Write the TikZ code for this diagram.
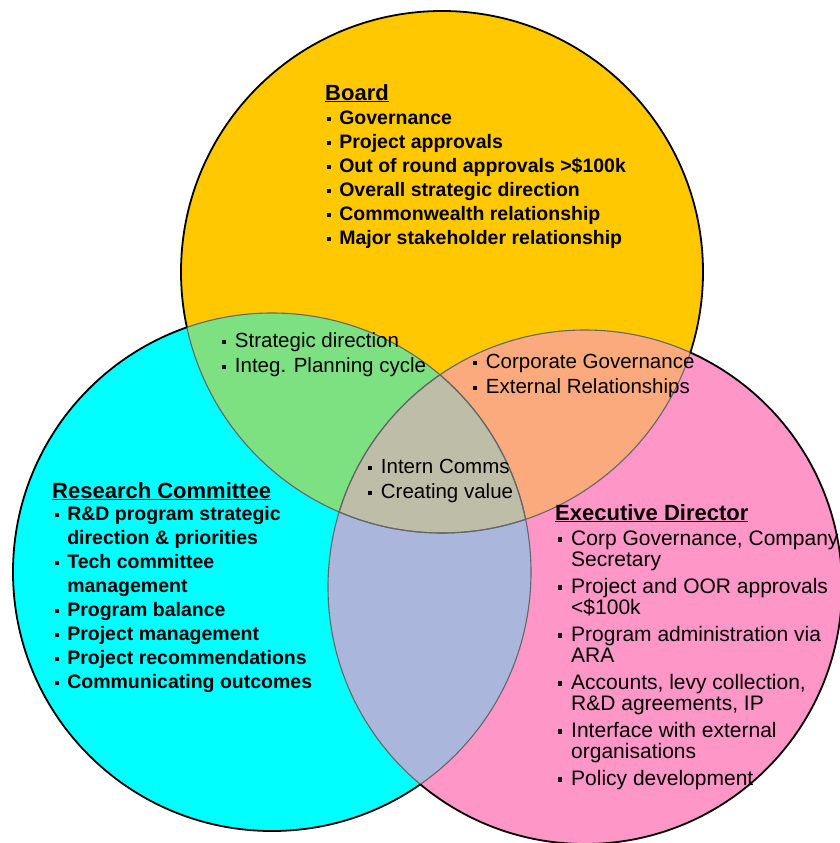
\documentclass[tikz,border=0pt]{standalone}
\usepackage{fontspec}
\setmainfont{Liberation Sans}
\usetikzlibrary{positioning}

\definecolor{boardyellow}{RGB}{255,200,0}
\definecolor{rescyan}{RGB}{0,255,255}
\definecolor{execpink}{RGB}{255,150,200}
\definecolor{bdgreen}{RGB}{125,225,130}
\definecolor{beorange}{RGB}{250,170,125}
\definecolor{reblue}{RGB}{170,182,220}
\definecolor{allgray}{RGB}{190,190,168}

\newcommand{\sqbul}{\raisebox{0.16em}{\rule{0.2em}{0.2em}}\hspace{0.42em}}
\newcommand{\cont}{\hphantom{\sqbul}}

\begin{document}
\begin{tikzpicture}[
		x=1pt,y=-1pt,
		outerline/.style={
			draw=black,
			line width=1.8pt
		},
		innerline/.style={
			draw=black!60,
			line width=1.1pt
		},
		heading/.style={
			anchor=base west,
			inner sep=0pt,
			font=\fontsize{22}{26}\selectfont\bfseries
		},
		boldlist/.style={
			anchor=base west,
			inner sep=0pt,
			align=left,
			font=\fontsize{19.5}{24}\selectfont\bfseries
		},
		plainlist/.style={
			anchor=base west,
			inner sep=0pt,
			align=left,
			font=\fontsize{20.5}{25}\selectfont
		}
		]
		\useasboundingbox (0,0) rectangle (840,843);
		\coordinate (board) at (442,272);
		\coordinate (research) at (272,572);
		\coordinate (exec) at (585,587);
		\def\rb{261}
		\def\rr{259}
		\def\re{257}
		% circles and overlaps
		\fill[boardyellow] (board) circle[radius=\rb];
		\fill[rescyan] (research) circle[radius=\rr];
		\fill[execpink] (exec) circle[radius=\re];
		\begin{scope}
			\clip (board) circle[radius=\rb];
			\fill[bdgreen] (research) circle[radius=\rr];
			\fill[beorange] (exec) circle[radius=\re];
		\end{scope}
		\begin{scope}
			\clip (research) circle[radius=\rr];
			\fill[reblue] (exec) circle[radius=\re];
			\clip (board) circle[radius=\rb];
			\fill[allgray] (exec) circle[radius=\re];
		\end{scope}
		% inner arcs
		\begin{scope}
			\clip (board) circle[radius=\rb];
			\draw[innerline] (research) circle[radius=\rr];
			\draw[innerline] (exec) circle[radius=\re];
		\end{scope}
		\begin{scope}
			\clip (research) circle[radius=\rr];
			\draw[innerline] (board) circle[radius=\rb];
			\draw[innerline] (exec) circle[radius=\re];
		\end{scope}
		\begin{scope}
			\clip (exec) circle[radius=\re];
			\draw[innerline] (board) circle[radius=\rb];
			\draw[innerline] (research) circle[radius=\rr];
		\end{scope}
		% outer arcs
		\begin{scope}[even odd rule]
			\clip (-20,-20) rectangle (860,863) (research) circle[radius=\rr];
			\clip (-20,-20) rectangle (860,863) (exec) circle[radius=\re];
			\draw[outerline] (board) circle[radius=\rb];
		\end{scope}
		\begin{scope}[even odd rule]
			\clip (-20,-20) rectangle (860,863) (board) circle[radius=\rb];
			\clip (-20,-20) rectangle (860,863) (exec) circle[radius=\re];
			\draw[outerline] (research) circle[radius=\rr];
		\end{scope}
		\begin{scope}[even odd rule]
			\clip (-20,-20) rectangle (860,863) (board) circle[radius=\rb];
			\clip (-20,-20) rectangle (860,863) (research) circle[radius=\rr];
			\draw[outerline] (exec) circle[radius=\re];
		\end{scope}
		% Board (lists sit on the baseline of their last line)
		\node[heading] (boardtitle) at (325,100) {\underline{Board}};
		\node[boldlist] (boardlist) at (327,244) {\sqbul Governance\\ \sqbul Project approvals\\ \sqbul Out of round approvals >\$100k\\ \sqbul Overall strategic direction\\ \sqbul Commonwealth relationship\\ \sqbul Major stakeholder relationship};
		% Research Committee
		\node[heading] (restitle) at (52,498) {\underline{Research Committee}};
		\node[boldlist] (reslist) at (55,688) {\sqbul R\&D program strategic\\ \cont direction \& priorities\\ \sqbul Tech committee\\ \cont management\\ \sqbul Program balance\\ \sqbul Project management\\ \sqbul Project recommendations\\ \sqbul Communicating outcomes};
		% Executive Director
		\node[heading] (exectitle) at (555,520) {\underline{Executive Director}};
		\node[plainlist,font=\fontsize{21}{21}\selectfont] (execlist) at (558,785) {\sqbul Corp Governance, Company\\ \cont Secretary\\[6pt] \sqbul Project and OOR approvals\\ \cont <\$100k\\[6pt] \sqbul Program administration via\\ \cont ARA\\[6pt] \sqbul Accounts, levy collection,\\ \cont R\&D agreements, IP\\[6pt] \sqbul Interface with external\\ \cont organisations\\[6pt] \sqbul Policy development};
		% overlaps
		\node[plainlist] (bdlist) at (222,372) {\sqbul Strategic direction\\ \sqbul Integ. Planning cycle};
		\node[plainlist] (belist) at (473,393) {\sqbul Corporate Governance\\ \sqbul External Relationships};
		\node[plainlist] (alllist) at (368,498) {\sqbul Intern Comms\\ \sqbul Creating value};
\end{tikzpicture}
\end{document}
